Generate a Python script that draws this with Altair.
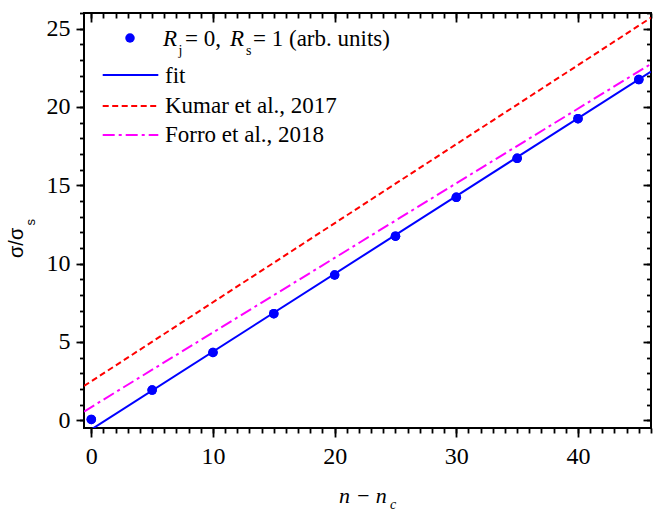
import altair as alt
import pandas as pd

# ---- data ----
n_pts = [0, 5, 10, 15, 20, 25, 30, 35, 40, 45]
sigma_pts = [0.05, 1.92, 4.32, 6.80, 9.27, 11.75, 14.23, 16.72, 19.25, 21.75]

line_x = [-0.6, 46]
fit_y = [-0.89, 22.26]
kumar_y = [2.18, 25.70]
forro_y = [0.55, 22.75]

x_major = [0, 10, 20, 30, 40]
x_minor = list(range(0, 47))
y_major = [0, 5, 10, 15, 20, 25]
y_minor = list(range(0, 27))

W, H = 567, 415
SERIF = "Liberation Serif"
SANS = "Liberation Sans"
TICK_FS = 24
LEG_FS = 23

pts = pd.DataFrame({"x": n_pts, "y": sigma_pts})
fit = pd.DataFrame({"x": line_x, "y": fit_y})
kumar = pd.DataFrame({"x": line_x, "y": kumar_y})
forro = pd.DataFrame({"x": line_x, "y": forro_y})
one = pd.DataFrame({"a": [0]})

xs = alt.Scale(domain=[-0.6, 46], nice=False, zero=False)
ys = alt.Scale(domain=[-0.5, 26], nice=False, zero=False)


def ax(orient, values, size, labels, offset=0, pad=6):
    kw = dict(orient=orient, values=values, tickSize=size, tickWidth=1.8,
              tickColor="black", domain=False, grid=False, labels=labels,
              title=None, offset=offset)
    if labels:
        kw.update(labelFont=SERIF, labelFontSize=TICK_FS, labelColor="black",
                  labelPadding=pad, labelOverlap=False, labelFlush=False,
                  labelBound=False)
    return alt.Axis(**kw)


def xy(xaxis, yaxis):
    return dict(
        x=alt.X("x:Q", scale=xs, axis=xaxis),
        y=alt.Y("y:Q", scale=ys, axis=yaxis),
    )


pts_layer = alt.Chart(pts).mark_circle(
    size=90, color="#0000ff", opacity=1
).encode(**xy(ax("bottom", x_major, 9, True, pad=7),
              ax("left", y_major, 8, True, pad=6)))

kumar_layer = alt.Chart(kumar).mark_line(
    color="#ff0000", strokeWidth=2, strokeDash=[6, 3.5], clip=True
).encode(**xy(ax("bottom", x_major, 9, False, offset=-H),
              ax("left", y_major, 8, False, offset=-W)))

forro_layer = alt.Chart(forro).mark_line(
    color="#ff00ff", strokeWidth=2, strokeDash=[12, 4, 3, 4], clip=True
).encode(**xy(ax("bottom", x_minor, 5, False, offset=-H),
              ax("left", y_minor, 4.5, False, offset=-W)))

fit_layer = alt.Chart(fit).mark_line(
    color="#0000ff", strokeWidth=2, clip=True
).encode(**xy(ax("bottom", x_minor, 5, False),
              ax("left", y_minor, 4.5, False)))

pts_top = alt.Chart(pts).mark_circle(size=90, color="#0000ff", opacity=1).encode(
    x=alt.X("x:Q", scale=xs, axis=None), y=alt.Y("y:Q", scale=ys, axis=None))


def txt(s, x, y, size=LEG_FS, style="normal", font=SERIF, angle=0):
    return alt.Chart(one).mark_text(
        text=s, font=font, fontSize=size, fontStyle=style, align="left",
        baseline="alphabetic", angle=angle, color="black"
    ).encode(x=alt.value(x), y=alt.value(y))


def rule(color, y, dash=None):
    kw = dict(color=color, strokeWidth=2)
    if dash:
        kw["strokeDash"] = dash
    return alt.Chart(one).mark_rule(**kw).encode(
        x=alt.value(18.7), x2=alt.value(74.3), y=alt.value(y))


legend = [
    alt.Chart(one).mark_circle(size=90, color="#0000ff", opacity=1).encode(
        x=alt.value(46), y=alt.value(25)),
    txt("R", 79, 33, style="italic"),
    txt("j", 94.5, 42, size=14),
    txt("= 0,", 101, 33),
    txt("R", 146, 33, style="italic"),
    txt("s", 162, 42, size=14),
    txt("= 1 (arb. units)", 169, 33),
    rule("#0000ff", 62),
    txt("fit", 81, 70),
    rule("#ff0000", 93, [6, 3.5]),
    txt("Kumar et al., 2017", 81, 100),
    rule("#ff00ff", 122, [12, 4, 3, 4]),
    txt("Forro et al., 2018", 81, 129),
]

titles = [
    txt("n \u2212 n", 255, 490, size=22, style="italic"),
    txt("c", 306, 496, size=14, style="italic"),
    txt("\u03c3/\u03c3", -61, 245, size=20, font=SANS, angle=270),
    txt("s", -49.3, 212.5, size=13, font=SANS, angle=270),
]

chart = alt.layer(
    pts_layer, kumar_layer, forro_layer, fit_layer, pts_top, *legend, *titles
).resolve_axis(
    x="independent", y="independent"
).properties(
    width=W, height=H,
    autosize=alt.AutoSizeParams(type="none"),
    padding={"left": 84, "top": 13, "right": 9, "bottom": 84},
).configure_view(
    stroke="black", strokeWidth=2
).configure_axis(
    labelFont=SERIF, labelFontSize=TICK_FS, labelColor="black"
)

chart.save("out.html", embed_options={"renderer": "svg", "actions": False})
